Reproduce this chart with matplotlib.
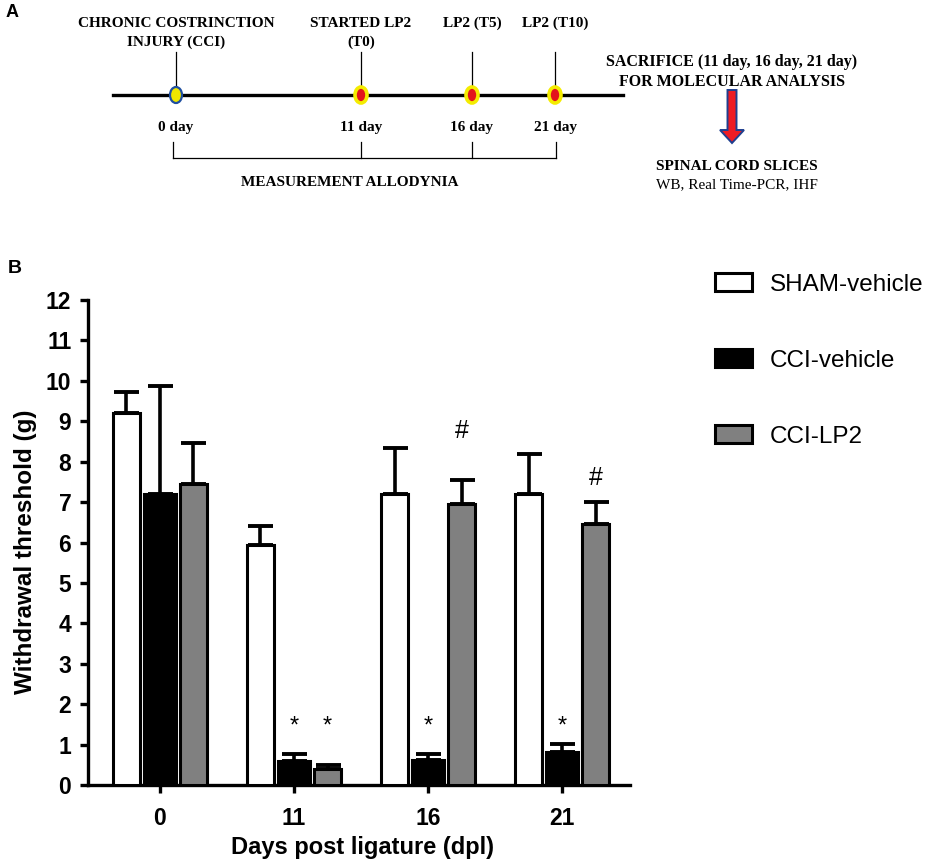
import numpy as np
import matplotlib
matplotlib.use("Agg")
import matplotlib.pyplot as plt
from matplotlib.patches import Ellipse

# panel B data: mean withdrawal threshold (g) and upper error
days = ["0", "11", "16", "21"]
groups = ["SHAM-vehicle", "CCI-vehicle", "CCI-LP2"]
sham_mean = [9.2, 5.95, 7.2, 7.2]
sham_err = [0.52, 0.45, 1.15, 1.0]
cci_mean = [7.2, 0.6, 0.62, 0.82]
cci_err = [2.67, 0.17, 0.15, 0.19]
lp2_mean = [7.45, 0.4, 6.95, 6.45]
lp2_err = [1.0, 0.1, 0.6, 0.55]

# significance marks: (group index, series index, y, text)
marks = [(1, 1, 1.45, "*"), (1, 2, 1.45, "*"), (2, 1, 1.45, "*"),
         (3, 1, 1.45, "*"), (2, 2, 8.75, "#"), (3, 2, 7.6, "#")]

# panel A timeline labels
tl_days = ["0 day", "11 day", "16 day", "21 day"]
tl_top = ["CHRONIC COSTRINCTION\nINJURY (CCI)", "STARTED LP2\n(T0)", "LP2 (T5)", "LP2 (T10)"]

fig = plt.figure(figsize=(9.34, 8.63), dpi=100)

# ---------- panel A (pixel coordinates) ----------
axa = fig.add_axes([0, 0, 1, 1])
axa.set_xlim(0, 934)
axa.set_ylim(863, 0)
axa.axis("off")

serif = "Liberation Serif"
fs_a = 11
tl_x = [176, 361, 472, 555]
axa.plot([113, 623], [95, 95], color="black", lw=2.4, zorder=2)
for i, xx in enumerate(tl_x):
    axa.plot([xx, xx], [52, 95], color="black", lw=0.9, zorder=1)
    if i == 0:
        e = Ellipse((xx, 95), 12, 16, facecolor="#eee600", edgecolor="#1f4fa0", lw=1.6, zorder=3)
    else:
        e = Ellipse((xx, 95), 12, 16, facecolor="#e3141c", edgecolor="#f4ec00", lw=2.6, zorder=3)
    axa.add_patch(e)
    axa.text(xx, 127, tl_days[i], ha="center", va="center", fontsize=fs_a,
             fontweight="bold", family=serif)

axa.text(176, 33, tl_top[0], ha="center", va="center", fontsize=fs_a,
         fontweight="bold", family=serif, linespacing=1.45)
axa.text(361, 33, tl_top[1], ha="center", va="center", fontsize=fs_a,
         fontweight="bold", family=serif, linespacing=1.45)
axa.text(472, 23, tl_top[2], ha="center", va="center", fontsize=fs_a,
         fontweight="bold", family=serif)
axa.text(555, 23, tl_top[3], ha="center", va="center", fontsize=fs_a,
         fontweight="bold", family=serif)

# bracket for allodynia measurement
for xx in [173, 361, 472, 556]:
    axa.plot([xx, xx], [142, 158], color="black", lw=0.9)
axa.plot([173, 556], [158, 158], color="black", lw=0.9)
axa.text(350, 183, "MEASUREMENT ALLODYNIA", ha="center", va="center",
         fontsize=fs_a, fontweight="bold", family=serif)

axa.text(732, 72, "SACRIFICE (11 day, 16 day, 21 day)\nFOR MOLECULAR ANALYSIS",
         ha="center", va="center", fontsize=11.5, fontweight="bold",
         family=serif, linespacing=1.25)
axa.arrow(732, 90, 0, 40, width=9, head_width=24, head_length=13,
          length_includes_head=False, facecolor="#ee1c24", edgecolor="#1f3f8f", lw=1.4)
axa.text(737, 166, "SPINAL CORD SLICES", ha="center", va="center",
         fontsize=fs_a, fontweight="bold", family=serif)
axa.text(737, 185, "WB, Real Time-PCR, IHF", ha="center", va="center",
         fontsize=fs_a, family=serif)

fig.text(0.006, 0.985, "A", fontsize=13, fontweight="bold", family="Liberation Sans", va="center")
fig.text(0.008, 0.689, "B", fontsize=14, fontweight="bold", family="Liberation Sans", va="center")

# ---------- panel B ----------
ax = fig.add_axes([88 / 934, 78 / 863, 542 / 934, 485 / 863])
ax.patch.set_visible(False)
sans = "Liberation Sans"

x = np.arange(len(days))
means = [sham_mean, cci_mean, lp2_mean]
errs = [sham_err, cci_err, lp2_err]
colors = ["white", "black", "#808080"]
widths = [0.2, 0.245, 0.2]
offsets = [-0.25, 0.0, 0.25]

handles = []
for k in range(3):
    b = ax.bar(x + offsets[k], means[k], width=widths[k], color=colors[k],
               edgecolor="black", linewidth=2.2, zorder=3, label=groups[k])
    handles.append(b)
    ax.errorbar(x + offsets[k], means[k], yerr=[np.zeros(4), errs[k]], fmt="none",
                ecolor="black", elinewidth=2.6, capsize=9, capthick=2.8, zorder=2)

for g, s, y, t in marks:
    ax.text(x[g] + offsets[s], y, t, ha="center", va="center", fontsize=17 if t == "*" else 18,
            family=sans)

ax.set_xlim(-0.537, 3.507)
ax.set_ylim(0, 12)
ax.set_yticks(range(0, 13))
ax.set_xticks(x)
ax.set_xticklabels(days)
for side in ["top", "right"]:
    ax.spines[side].set_visible(False)
for side in ["left", "bottom"]:
    ax.spines[side].set_linewidth(2.4)
ax.tick_params(axis="both", width=2.4, length=6, labelsize=16.5, pad=6)
ax.tick_params(axis="x", pad=10)
for lab in ax.get_xticklabels() + ax.get_yticklabels():
    lab.set_fontweight("bold")
    lab.set_family(sans)

ax.set_ylabel("Withdrawal threshold (g)", fontsize=17.5, fontweight="bold", family=sans)
ax.yaxis.set_label_coords(-0.094, 0.48)
ax.set_xlabel("Days post ligature (dpl)", fontsize=17, fontweight="bold", family=sans)
ax.xaxis.set_label_coords(0.506, -0.105)

fig.legend(handles=handles, labels=groups, loc="upper left",
           bbox_to_anchor=(715 / 934, 1 - 273 / 863), frameon=False,
           prop={"family": sans, "size": 17.5}, handlelength=1.52, handleheight=0.78,
           handletextpad=0.74, labelspacing=2.2, borderpad=0, borderaxespad=0)

fig.savefig("out.png", dpi=100)
